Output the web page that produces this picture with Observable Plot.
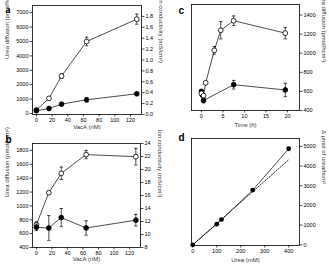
<!DOCTYPE html>
<html><head><meta charset="utf-8">
<script src="https://cdn.jsdelivr.net/npm/d3@7"></script>
<script src="https://cdn.jsdelivr.net/npm/@observablehq/plot@0.6"></script>
<style>
html,body{margin:0;padding:0;background:#fff;}
#chart{position:relative;width:329px;height:265px;overflow:hidden;}
#chart svg{position:absolute;}
</style>
</head><body><div id="chart"></div>
<script>
// ---------- data ----------
// panel a
const vacaA = [0, 16, 32, 64, 128];
const ureaA = [250, 1050, 2600, 5000, 6550];
const ureaAErr = [60, 80, 150, 300, 350];
const ionA = [0.07, 0.11, 0.19, 0.27, 0.38];
const ionAErr = [0.02, 0.02, 0.02, 0.04, 0.02];
const xTicksVac = [0, 20, 40, 60, 80, 100, 120];
const ureaTicksA = [0, 1000, 2000, 3000, 4000, 5000, 6000, 7000];
const ionTicksA = [0, 0.2, 0.4, 0.6, 0.8, 1.0, 1.2, 1.4, 1.6, 1.8];
// panel b
const vacaB = [0, 16, 32, 64, 128];
const ureaB = [730, 1190, 1470, 1740, 1710];
const ureaBErr = [40, 20, 90, 60, 120];
const ionB = [11.1, 11.0, 12.6, 11.0, 12.2];
const ionBErr = [0.5, 1.9, 1.4, 1.1, 0.9];
const ureaTicksB = [400, 600, 800, 1000, 1200, 1400, 1600, 1800];
const ionTicksB = [8, 10, 12, 14, 16, 18, 20, 22, 24];
// panel c
const timeOpen = [0, 0.5, 1, 3, 4.5, 7.5, 19.5];
const ureaOpenC = [580, 555, 690, 1030, 1240, 1340, 1210];
const ureaOpenCErr = [20, 20, 15, 40, 90, 50, 60];
const timeClosed = [0, 0.25, 0.5, 7.5, 19.5];
const ureaClosedC = [600, 560, 505, 670, 615];
const ureaClosedCErr = [15, 20, 25, 45, 70];
const timeTicks = [0, 5, 10, 15, 20];
const ureaTicksC = [400, 600, 800, 1000, 1200, 1400];
// panel d
const ureaMM = [0, 100, 120, 250, 400];
const deltaUrea = [0, 1050, 1280, 2780, 4880];
const fitX = [0, 400];
const fitY = [0, 4320];
const ureaMMTicks = [0, 100, 200, 300, 400];
const deltaTicks = [0, 1000, 2000, 3000, 4000, 5000];

// ---------- helpers ----------
const FONT = "'Liberation Sans', Arial, sans-serif";
const baseStyle = {fontFamily: FONT, fontSize: "5.5px", background: "transparent", color: "#000", overflow: "visible"};
const table = (xs, ys, es) => xs.map((x, i) => ({x, y: ys[i], e: es ? es[i] : 0}));
const cap = {draw(ctx, size) { const w = Math.sqrt(size / Math.PI); ctx.moveTo(-w, 0); ctx.lineTo(w, 0); }};
function errMarks(data) {
  return [
    Plot.ruleX(data, {x: "x", y1: d => d.y - d.e, y2: d => d.y + d.e, stroke: "#000", strokeWidth: 0.7}),
    Plot.dot(data, {x: "x", y: d => d.y - d.e, symbol: cap, r: 1.7, stroke: "#000", fill: "none", strokeWidth: 0.7}),
    Plot.dot(data, {x: "x", y: d => d.y + d.e, symbol: cap, r: 1.7, stroke: "#000", fill: "none", strokeWidth: 0.7})
  ];
}
function series(data, open) {
  return [
    Plot.line(data, {x: "x", y: "y", stroke: "#000", strokeWidth: 0.7}),
    ...errMarks(data),
    Plot.dot(data, {x: "x", y: "y", r: 2.4, fill: open ? "#fff" : "#000", stroke: "#000", strokeWidth: 0.8})
  ];
}
const plain = d => String(d);
const ax = {tickSize: 2.5, tickPadding: 1.5, label: null, strokeWidth: 0.7, tickFormat: plain};
const title = (t, o) => Plot.text([t], {text: d => d, fontSize: 6, fill: "#333", ...o});
const letter = (t, o) => Plot.text([t], {text: d => d, fontSize: 10, fontWeight: "bold", fill: "#000", lineAnchor: "middle", ...o});

const chart = document.getElementById("chart");
function place(svg, left, top) { svg.style.left = left + "px"; svg.style.top = top + "px"; chart.appendChild(svg); }

// ---------- panel a ----------
const dimsA = {width: 170, height: 135, marginTop: 5, marginBottom: 21, marginLeft: 32, marginRight: 29};
place(Plot.plot({
  ...dimsA, style: baseStyle,
  x: {domain: [-5, 134]}, y: {domain: [-70, 7500]},
  marks: [
    Plot.frame({stroke: "#000", strokeWidth: 0.8}),
    Plot.axisX({...ax, ticks: xTicksVac}),
    Plot.axisY({...ax, ticks: ureaTicksA}),
    ...series(table(vacaA, ureaA, ureaAErr), true),
    title("Urea diffusion (pmol/hcm²)", {frameAnchor: "left", rotate: -90, dx: -25, dy: -1}),
    title("VacA (nM)", {frameAnchor: "bottom", dy: 13, lineAnchor: "middle"}),
    letter("a", {frameAnchor: "top-left", dx: -27, dy: 4, fontFamily: "'Liberation Serif', serif"})
  ]
}), 0, 0);
place(Plot.plot({
  ...dimsA, style: baseStyle,
  x: {domain: [-5, 134], axis: null}, y: {domain: [0, 2.0]},
  marks: [
    Plot.axisY({...ax, anchor: "right", ticks: ionTicksA, tickFormat: d => d.toFixed(1)}),
    ...series(table(vacaA, ionA, ionAErr), false),
    title("Ion conductivity (mS/cm²)", {frameAnchor: "right", rotate: 90, dx: 19, dy: 3})
  ]
}), 0, 0);

// ---------- panel b ----------
const dimsB = {width: 170, height: 135, marginTop: 13, marginBottom: 18, marginLeft: 32, marginRight: 30};
place(Plot.plot({
  ...dimsB, style: baseStyle,
  x: {domain: [-5, 134]}, y: {domain: [400, 1900]},
  marks: [
    Plot.frame({stroke: "#000", strokeWidth: 0.8}),
    Plot.axisX({...ax, ticks: xTicksVac}),
    Plot.axisY({...ax, ticks: ureaTicksB}),
    ...series(table(vacaB, ureaB, ureaBErr), true),
    title("Urea diffusion (pmol/hcm²)", {frameAnchor: "left", rotate: -90, dx: -25, dy: 2}),
    title("VacA (nM)", {frameAnchor: "bottom", dy: 12, lineAnchor: "middle"}),
    letter("b", {frameAnchor: "top-left", dx: -27, dy: -4})
  ]
}), 0, 130);
place(Plot.plot({
  ...dimsB, style: baseStyle,
  x: {domain: [-5, 134], axis: null}, y: {domain: [8, 24]},
  marks: [
    Plot.axisY({...ax, anchor: "right", ticks: ionTicksB}),
    ...series(table(vacaB, ionB, ionBErr), false),
    title("Ion conductivity (mS/cm²)", {frameAnchor: "right", rotate: 90, dx: 19, dy: 2})
  ]
}), 0, 130);

// ---------- panel c ----------
place(Plot.plot({
  width: 164, height: 135, marginTop: 4, marginBottom: 25, marginLeft: 26, marginRight: 30,
  style: baseStyle,
  x: {domain: [-2.3, 22.8]}, y: {domain: [400, 1510]},
  marks: [
    Plot.frame({stroke: "#000", strokeWidth: 0.8}),
    Plot.axisX({...ax, ticks: timeTicks}),
    Plot.axisY({...ax, anchor: "right", ticks: ureaTicksC}),
    ...series(table(timeClosed, ureaClosedC, ureaClosedCErr), false),
    ...series(table(timeOpen, ureaOpenC, ureaOpenCErr), true),
    title("Urea diffusion (pmol/hcm²)", {frameAnchor: "right", rotate: 90, dx: 24, dy: 5}),
    title("Time (h)", {frameAnchor: "bottom", dy: 15, lineAnchor: "middle"}),
    letter("c", {frameAnchor: "top-left", dx: -13, dy: 6})
  ]
}), 165, 0);

// ---------- panel d ----------
place(Plot.plot({
  width: 164, height: 135, marginTop: 8, marginBottom: 20, marginLeft: 26, marginRight: 30,
  style: baseStyle,
  x: {domain: [-5, 445]}, y: {domain: [-35, 5400]},
  marks: [
    Plot.frame({stroke: "#000", strokeWidth: 0.8}),
    Plot.axisX({...ax, ticks: ureaMMTicks}),
    Plot.axisY({...ax, anchor: "right", ticks: deltaTicks}),
    Plot.line(table(fitX, fitY), {x: "x", y: "y", stroke: "#000", strokeWidth: 0.8, strokeDasharray: "1.5,1.5"}),
    Plot.line(table(ureaMM, deltaUrea), {x: "x", y: "y", stroke: "#000", strokeWidth: 0.7}),
    Plot.dot(table(ureaMM, deltaUrea), {x: "x", y: "y", r: 2.4, fill: "#000"}),
    title("Δ μmol of urea/hcm²", {frameAnchor: "right", rotate: 90, dx: 24, dy: -8}),
    title("Urea (mM)", {frameAnchor: "bottom", dy: 15, lineAnchor: "middle"}),
    letter("d", {frameAnchor: "top-left", dx: -13, dy: -1})
  ]
}), 165, 130);
</script></body></html>
